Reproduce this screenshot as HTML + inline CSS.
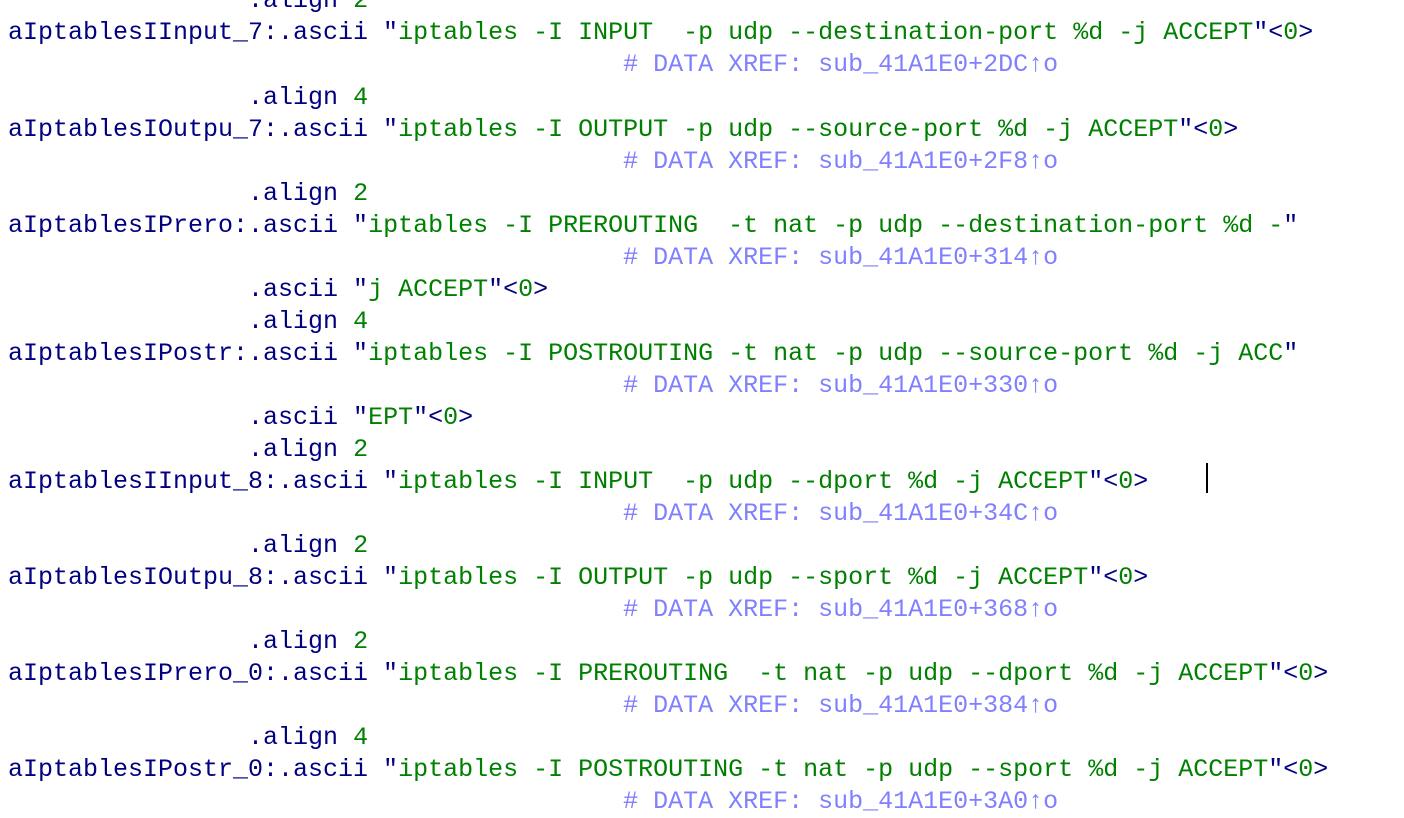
<!DOCTYPE html>
<html><head><meta charset="utf-8"><style>
body{margin:0;width:1404px;height:816px;background:#fff;overflow:hidden;position:relative;font-family:"Liberation Mono",monospace;font-size:25px;}
.w{position:absolute;left:0;top:2px;}
.l{position:absolute;left:8px;height:32px;line-height:32px;white-space:pre;color:#000080;}
.g{color:#008000}.c{color:#8080ff}
#cur{position:absolute;left:1206px;top:463px;width:2px;height:30px;background:#000}
</style></head><body>
<div class="w">
<div class="l" style="top:-17px">                .align <span class="g">2</span></div>
<div class="l" style="top:15px">aIptablesIInput_7:.ascii "<span class="g">iptables -I INPUT  -p udp --destination-port %d -j ACCEPT</span>"&lt;<span class="g">0</span>&gt;</div>
<div class="l c" style="top:47px">                                         # DATA XREF: sub_41A1E0+2DC↑o</div>
<div class="l" style="top:80px">                .align <span class="g">4</span></div>
<div class="l" style="top:112px">aIptablesIOutpu_7:.ascii "<span class="g">iptables -I OUTPUT -p udp --source-port %d -j ACCEPT</span>"&lt;<span class="g">0</span>&gt;</div>
<div class="l c" style="top:144px">                                         # DATA XREF: sub_41A1E0+2F8↑o</div>
<div class="l" style="top:176px">                .align <span class="g">2</span></div>
<div class="l" style="top:208px">aIptablesIPrero:.ascii "<span class="g">iptables -I PREROUTING  -t nat -p udp --destination-port %d -</span>"</div>
<div class="l c" style="top:240px">                                         # DATA XREF: sub_41A1E0+314↑o</div>
<div class="l" style="top:272px">                .ascii "<span class="g">j ACCEPT</span>"&lt;<span class="g">0</span>&gt;</div>
<div class="l" style="top:304px">                .align <span class="g">4</span></div>
<div class="l" style="top:336px">aIptablesIPostr:.ascii "<span class="g">iptables -I POSTROUTING -t nat -p udp --source-port %d -j ACC</span>"</div>
<div class="l c" style="top:368px">                                         # DATA XREF: sub_41A1E0+330↑o</div>
<div class="l" style="top:400px">                .ascii "<span class="g">EPT</span>"&lt;<span class="g">0</span>&gt;</div>
<div class="l" style="top:432px">                .align <span class="g">2</span></div>
<div class="l" style="top:464px">aIptablesIInput_8:.ascii "<span class="g">iptables -I INPUT  -p udp --dport %d -j ACCEPT</span>"&lt;<span class="g">0</span>&gt;</div>
<div class="l c" style="top:496px">                                         # DATA XREF: sub_41A1E0+34C↑o</div>
<div class="l" style="top:528px">                .align <span class="g">2</span></div>
<div class="l" style="top:560px">aIptablesIOutpu_8:.ascii "<span class="g">iptables -I OUTPUT -p udp --sport %d -j ACCEPT</span>"&lt;<span class="g">0</span>&gt;</div>
<div class="l c" style="top:592px">                                         # DATA XREF: sub_41A1E0+368↑o</div>
<div class="l" style="top:624px">                .align <span class="g">2</span></div>
<div class="l" style="top:656px">aIptablesIPrero_0:.ascii "<span class="g">iptables -I PREROUTING  -t nat -p udp --dport %d -j ACCEPT</span>"&lt;<span class="g">0</span>&gt;</div>
<div class="l c" style="top:688px">                                         # DATA XREF: sub_41A1E0+384↑o</div>
<div class="l" style="top:720px">                .align <span class="g">4</span></div>
<div class="l" style="top:752px">aIptablesIPostr_0:.ascii "<span class="g">iptables -I POSTROUTING -t nat -p udp --sport %d -j ACCEPT</span>"&lt;<span class="g">0</span>&gt;</div>
<div class="l c" style="top:784px">                                         # DATA XREF: sub_41A1E0+3A0↑o</div>
</div>
<div id="cur"></div>
</body></html>
